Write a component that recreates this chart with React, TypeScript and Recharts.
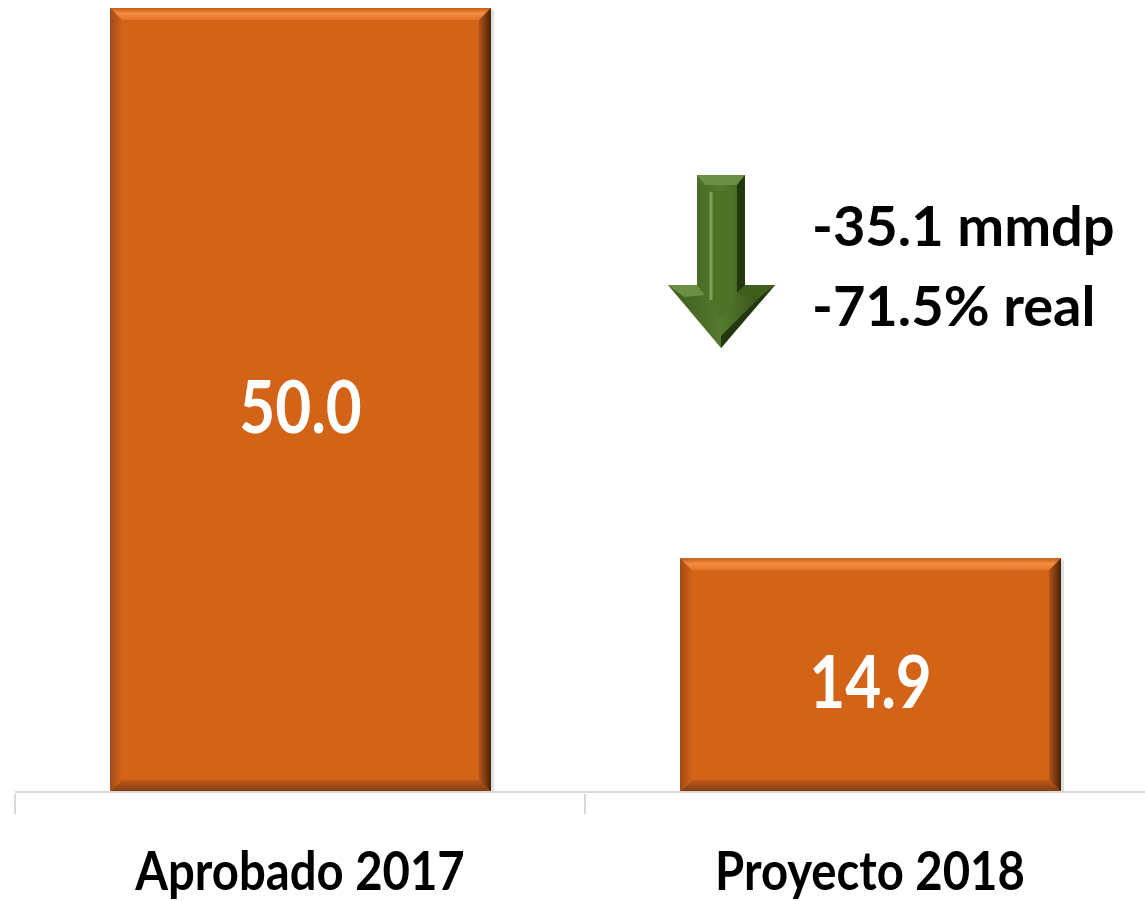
import React from 'react'
import { BarChart, Bar, XAxis, YAxis, LabelList, Customized } from 'recharts'

const categories = ['Aprobado 2017', 'Proyecto 2018']
const amounts = [50.0, 14.9]
const changeLines = ['-35.1 mmdp', '-71.5% real']

const data = categories.map((name, i) => ({ name, value: amounts[i] }))

const FONT = "Lato, 'Open Sans', sans-serif"
const ORANGE = '#D36317'
const AXIS_GRAY = '#D9D9D9'
// Lato runs wider than the original narrow face, squeeze a bit horizontally
const CONDENSE = 0.875

const BevelBar = (props: any) => {
  const { x, y, width: w, height: h } = props
  const b = Math.min(12, h / 4)
  return (
    <g>
      <rect x={x + 3} y={y + 2} width={w} height={h - 2} fill="#000" opacity={0.12} />
      <rect x={x} y={y} width={w} height={h} fill={ORANGE} />
      <polygon
        points={`${x},${y} ${x + w},${y} ${x + w - b},${y + b} ${x + b},${y + b}`}
        fill="url(#bevTop)"
      />
      <polygon
        points={`${x + w},${y} ${x + w},${y + h} ${x + w - b},${y + h - b} ${x + w - b},${y + b}`}
        fill="url(#bevRight)"
      />
      <polygon
        points={`${x},${y + h} ${x + w},${y + h} ${x + w - b},${y + h - b} ${x + b},${y + h - b}`}
        fill="url(#bevBottom)"
      />
      <polygon
        points={`${x},${y} ${x + b},${y + b} ${x + b},${y + h - b} ${x},${y + h}`}
        fill="url(#bevLeft)"
      />
    </g>
  )
}

const BarValue = (props: any) => {
  const { x, y, width, height, value } = props
  const cx = x + width / 2
  const by = y + height / 2 + 33
  return (
    <text
      transform={`translate(${cx},${by}) scale(0.85,1)`}
      x={0}
      y={0}
      textAnchor="middle"
      fill="#fff"
      fontFamily={FONT}
      fontWeight={700}
      fontSize={73}
    >
      {Number(value).toFixed(1)}
    </text>
  )
}

const CategoryTick = (props: any) => {
  const { x, y, payload, index } = props
  const half = payload.offset || 0
  return (
    <g>
      <line x1={x - half} x2={x - half} y1={y - 6} y2={y + 14} stroke={AXIS_GRAY} strokeWidth={2} />
      {index === categories.length - 1 && (
        <line x1={x + half} x2={x + half} y1={y - 6} y2={y + 14} stroke={AXIS_GRAY} strokeWidth={2} />
      )}
      <text
        transform={`translate(${x},${y + 90}) scale(${CONDENSE},1)`}
        x={0}
        y={0}
        textAnchor="middle"
        fill="#000"
        fontFamily={FONT}
        fontWeight={700}
        fontSize={54}
      >
        {payload.value}
      </text>
    </g>
  )
}

const ChangeNote = () => (
  <g>
    <defs>
      <linearGradient id="arrowBody" x1="0" y1="0" x2="1" y2="0">
        <stop offset="0%" stopColor="#3B5A1E" />
        <stop offset="50%" stopColor="#557A2E" />
        <stop offset="100%" stopColor="#2C4414" />
      </linearGradient>
    </defs>
    <polygon
      points="697,175 745,175 745,285 775,285 721,348 668,285 697,285"
      fill="url(#arrowBody)"
    />
    <polygon points="697,175 745,175 737,185 705,185" fill="#6C8F44" />
    <polygon points="745,175 745,285 737,293 737,185" fill="#24380F" />
    <polygon points="707,190 735,190 735,300 721,318 707,300" fill="#4F7229" />
    <line x1={711} y1={192} x2={711} y2={300} stroke="#7FA056" strokeWidth={3} />
    <polygon points="668,285 697,285 705,295 684,297" fill="#6C8F44" />
    <polygon points="745,285 775,285 760,297 737,295" fill="#3E5F1D" />
    <polygon points="775,285 721,348 721,336 760,297" fill="#24380F" />
    {changeLines.map((t, i) => (
      <text
        key={t}
        x={812}
        y={246 + i * 80}
        fill="#000"
        fontFamily={FONT}
        fontWeight={700}
        fontSize={56}
      >
        {t}
      </text>
    ))}
  </g>
)

export default function App() {
  return (
    <div style={{ position: 'absolute', left: 0, top: 0, width: 1145, height: 901, overflow: 'hidden', background: '#fff' }}>
      <BarChart
        width={1160}
        height={901}
        data={data}
        margin={{ top: 8, right: 5, left: 15, bottom: 0 }}
      >
        <defs>
          <linearGradient id="bevTop" x1="0" y1="0" x2="0" y2="1">
            <stop offset="0%" stopColor="#C45A14" />
            <stop offset="45%" stopColor="#F48E42" />
            <stop offset="100%" stopColor="#E27429" />
          </linearGradient>
          <linearGradient id="bevRight" x1="0" y1="0" x2="1" y2="0">
            <stop offset="0%" stopColor="#B4541A" />
            <stop offset="100%" stopColor="#4A2206" />
          </linearGradient>
          <linearGradient id="bevBottom" x1="0" y1="0" x2="0" y2="1">
            <stop offset="0%" stopColor="#C05A18" />
            <stop offset="100%" stopColor="#7A3A10" />
          </linearGradient>
          <linearGradient id="bevLeft" x1="0" y1="0" x2="1" y2="0">
            <stop offset="0%" stopColor="#9E4B18" />
            <stop offset="100%" stopColor={ORANGE} />
          </linearGradient>
        </defs>
        <XAxis
          dataKey="name"
          axisLine={{ stroke: AXIS_GRAY, strokeWidth: 2 }}
          tickLine={false}
          tick={<CategoryTick />}
          height={109}
          interval={0}
        />
        <YAxis hide domain={[0, 50]} />
        <Bar dataKey="value" barSize={381} shape={<BevelBar />} isAnimationActive={false}>
          <LabelList dataKey="value" content={<BarValue />} />
        </Bar>
        <Customized component={<ChangeNote />} />
      </BarChart>
    </div>
  )
}
